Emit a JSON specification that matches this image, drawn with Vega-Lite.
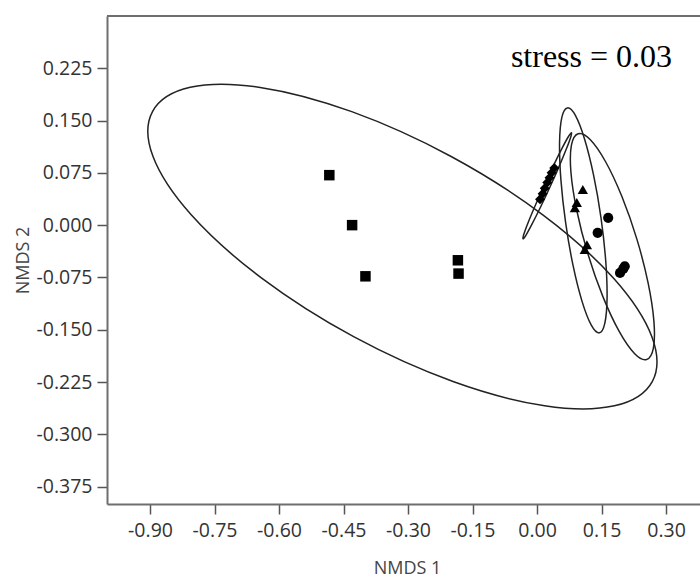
{
  "$schema": "https://vega.github.io/schema/vega-lite/v6.json",
  "width": 593,
  "height": 488,
  "autosize": {"type": "none"},
  "padding": {"left": 107, "top": 16, "right": 0, "bottom": 74},
  "background": "white",
  "config": {
    "locale": {"number": {"decimal": ".", "thousands": ",", "grouping": [3], "currency": ["$", ""], "minus": "-"}},
    "view": {"stroke": null},
    "axis": {
      "grid": false,
      "labelFont": "Open Sans",
      "labelFontSize": 19.5,
      "labelColor": "#333333",
      "titleFont": "Open Sans",
      "titleFontSize": 18,
      "titleFontWeight": "normal",
      "titleColor": "#444444",
      "domainColor": "#6e6e6e",
      "domainWidth": 2,
      "tickColor": "#555555",
      "tickWidth": 1.5,
      "tickSize": 10
    }
  },
  "datasets": {
    "ellipses": [
      {"ellipse": "E1", "i": 0, "x": 0.268, "y": -0.2244},
      {"ellipse": "E1", "i": 1, "x": 0.180, "y": -0.2592},
      {"ellipse": "E1", "i": 2, "x": 0.0177, "y": -0.2591},
      {"ellipse": "E1", "i": 3, "x": -0.1953, "y": -0.2243},
      {"ellipse": "E1", "i": 4, "x": -0.4265, "y": -0.1600},
      {"ellipse": "E1", "i": 5, "x": -0.6403, "y": -0.0760},
      {"ellipse": "E1", "i": 6, "x": -0.8042, "y": 0.0148},
      {"ellipse": "E1", "i": 7, "x": -0.8932, "y": 0.0987},
      {"ellipse": "E1", "i": 8, "x": -0.8942, "y": 0.1629},
      {"ellipse": "E1", "i": 9, "x": -0.8065, "y": 0.1977},
      {"ellipse": "E1", "i": 10, "x": -0.6438, "y": 0.1976},
      {"ellipse": "E1", "i": 11, "x": -0.4308, "y": 0.1628},
      {"ellipse": "E1", "i": 12, "x": -0.1997, "y": 0.0985},
      {"ellipse": "E1", "i": 13, "x": 0.0142, "y": 0.0145},
      {"ellipse": "E1", "i": 14, "x": 0.1781, "y": -0.0763},
      {"ellipse": "E1", "i": 15, "x": 0.2671, "y": -0.1602},
      {"ellipse": "E2", "i": 0, "x": 0.1448, "y": -0.1545},
      {"ellipse": "E2", "i": 1, "x": 0.1262, "y": -0.1435},
      {"ellipse": "E2", "i": 2, "x": 0.1049, "y": -0.1097},
      {"ellipse": "E2", "i": 3, "x": 0.0839, "y": -0.0582},
      {"ellipse": "E2", "i": 4, "x": 0.0666, "y": 0.0033},
      {"ellipse": "E2", "i": 5, "x": 0.0555, "y": 0.0653},
      {"ellipse": "E2", "i": 6, "x": 0.0524, "y": 0.1184},
      {"ellipse": "E2", "i": 7, "x": 0.0577, "y": 0.1546},
      {"ellipse": "E2", "i": 8, "x": 0.0706, "y": 0.1682},
      {"ellipse": "E2", "i": 9, "x": 0.0892, "y": 0.1573},
      {"ellipse": "E2", "i": 10, "x": 0.1105, "y": 0.1235},
      {"ellipse": "E2", "i": 11, "x": 0.1314, "y": 0.0720},
      {"ellipse": "E2", "i": 12, "x": 0.1488, "y": 0.0105},
      {"ellipse": "E2", "i": 13, "x": 0.1598, "y": -0.0515},
      {"ellipse": "E2", "i": 14, "x": 0.1629, "y": -0.1047},
      {"ellipse": "E2", "i": 15, "x": 0.1576, "y": -0.1408},
      {"ellipse": "E3", "i": 0, "x": 0.2549, "y": -0.1927},
      {"ellipse": "E3", "i": 1, "x": 0.2271, "y": -0.1844},
      {"ellipse": "E3", "i": 2, "x": 0.1914, "y": -0.1528},
      {"ellipse": "E3", "i": 3, "x": 0.1532, "y": -0.1025},
      {"ellipse": "E3", "i": 4, "x": 0.1184, "y": -0.0414},
      {"ellipse": "E3", "i": 5, "x": 0.0923, "y": 0.0214},
      {"ellipse": "E3", "i": 6, "x": 0.0788, "y": 0.0762},
      {"ellipse": "E3", "i": 7, "x": 0.0800, "y": 0.1148},
      {"ellipse": "E3", "i": 8, "x": 0.0957, "y": 0.1312},
      {"ellipse": "E3", "i": 9, "x": 0.1235, "y": 0.1229},
      {"ellipse": "E3", "i": 10, "x": 0.1592, "y": 0.0913},
      {"ellipse": "E3", "i": 11, "x": 0.1974, "y": 0.0410},
      {"ellipse": "E3", "i": 12, "x": 0.2322, "y": -0.0201},
      {"ellipse": "E3", "i": 13, "x": 0.2583, "y": -0.0829},
      {"ellipse": "E3", "i": 14, "x": 0.2718, "y": -0.1377},
      {"ellipse": "E3", "i": 15, "x": 0.2706, "y": -0.1763},
      {"ellipse": "E4", "i": 0, "x": 0.0802, "y": 0.1326},
      {"ellipse": "E4", "i": 1, "x": 0.0783, "y": 0.1262},
      {"ellipse": "E4", "i": 2, "x": 0.0681, "y": 0.1091},
      {"ellipse": "E4", "i": 3, "x": 0.0512, "y": 0.0840},
      {"ellipse": "E4", "i": 4, "x": 0.0301, "y": 0.0547},
      {"ellipse": "E4", "i": 5, "x": 0.0080, "y": 0.0257},
      {"ellipse": "E4", "i": 6, "x": -0.0117, "y": 0.0014},
      {"ellipse": "E4", "i": 7, "x": -0.0259, "y": -0.0146},
      {"ellipse": "E4", "i": 8, "x": -0.0326, "y": -0.0197},
      {"ellipse": "E4", "i": 9, "x": -0.0307, "y": -0.0132},
      {"ellipse": "E4", "i": 10, "x": -0.0206, "y": 0.0038},
      {"ellipse": "E4", "i": 11, "x": -0.0036, "y": 0.0289},
      {"ellipse": "E4", "i": 12, "x": 0.0175, "y": 0.0582},
      {"ellipse": "E4", "i": 13, "x": 0.0396, "y": 0.0872},
      {"ellipse": "E4", "i": 14, "x": 0.0592, "y": 0.1115},
      {"ellipse": "E4", "i": 15, "x": 0.0735, "y": 0.1275}
    ],
    "points": [
      {"group": "A", "x": -0.483, "y": 0.0717},
      {"group": "A", "x": -0.430, "y": 0.000},
      {"group": "A", "x": -0.399, "y": -0.0734},
      {"group": "A", "x": -0.184, "y": -0.0504},
      {"group": "A", "x": -0.1825, "y": -0.0695},
      {"group": "B", "x": 0.1065, "y": 0.0511},
      {"group": "B", "x": 0.0925, "y": 0.0325},
      {"group": "B", "x": 0.088, "y": 0.025},
      {"group": "B", "x": 0.116, "y": -0.028},
      {"group": "B", "x": 0.111, "y": -0.035},
      {"group": "C", "x": 0.1655, "y": 0.0105},
      {"group": "C", "x": 0.141, "y": -0.011},
      {"group": "C", "x": 0.2005, "y": -0.0628},
      {"group": "C", "x": 0.193, "y": -0.0685},
      {"group": "C", "x": 0.204, "y": -0.059},
      {"group": "D", "x": 0.007, "y": 0.037},
      {"group": "D", "x": 0.013, "y": 0.045},
      {"group": "D", "x": 0.018, "y": 0.053},
      {"group": "D", "x": 0.024, "y": 0.061},
      {"group": "D", "x": 0.029, "y": 0.068},
      {"group": "D", "x": 0.034, "y": 0.075},
      {"group": "D", "x": 0.040, "y": 0.082}
    ]
  },
  "layer": [
    {
      "data": {"name": "ellipses"},
      "mark": {"type": "line", "interpolate": "cardinal-closed", "stroke": "#222222", "strokeWidth": 1.5},
      "encoding": {
        "x": {
          "field": "x", "type": "quantitative",
          "scale": {"domain": [-1.0, 0.379], "nice": false, "zero": false},
          "axis": {
            "values": [-0.9, -0.75, -0.6, -0.45, -0.3, -0.15, 0, 0.15, 0.3],
            "format": ".2f",
            "title": "NMDS 1",
            "labelPadding": 7,
            "titleX": 300,
            "titleY": 69,
            "titleBaseline": "alphabetic"
          }
        },
        "y": {
          "field": "y", "type": "quantitative",
          "scale": {"domain": [-0.4, 0.3], "nice": false, "zero": false},
          "axis": {
            "values": [-0.375, -0.3, -0.225, -0.15, -0.075, 0, 0.075, 0.15, 0.225],
            "format": ".3f",
            "title": "NMDS 2",
            "labelPadding": 5
          }
        },
        "detail": {"field": "ellipse"},
        "order": {"field": "i", "type": "quantitative"}
      }
    },
    {
      "data": {"name": "points"},
      "mark": {"type": "point", "filled": true, "color": "#000000", "opacity": 1},
      "encoding": {
        "x": {"field": "x", "type": "quantitative"},
        "y": {"field": "y", "type": "quantitative"},
        "shape": {"field": "group", "type": "nominal", "scale": {"domain": ["A", "B", "C", "D"], "range": ["square", "triangle-up", "circle", "diamond"]}, "legend": null},
        "size": {"field": "group", "type": "ordinal", "scale": {"domain": ["A", "B", "C", "D"], "range": [110, 100, 100, 45]}, "legend": null}
      }
    },
    {
      "data": {"values": [{"x": 0.314, "y": 0.2274, "label": "stress = 0.03"}]},
      "mark": {"type": "text", "font": "Liberation Serif", "fontSize": 32, "align": "right", "baseline": "alphabetic", "color": "#000000"},
      "encoding": {
        "x": {"field": "x", "type": "quantitative"},
        "y": {"field": "y", "type": "quantitative"},
        "text": {"field": "label"}
      }
    },
    {
      "data": {"values": [{"y": 0.3}]},
      "mark": {"type": "rule", "stroke": "#6e6e6e", "strokeWidth": 2},
      "encoding": {
        "y": {"field": "y", "type": "quantitative"}
      }
    }
  ]
}
